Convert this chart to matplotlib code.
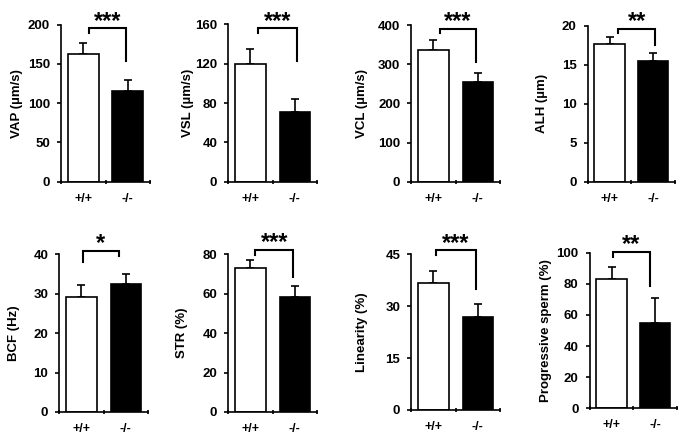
import numpy as np
import matplotlib
matplotlib.use("Agg")
import matplotlib.pyplot as plt

plt.rcParams['font.family'] = ['Liberation Sans', 'DejaVu Sans']
plt.rcParams['font.weight'] = 'bold'

# data
genotypes = ["+/+", "-/-"]
labels = ["VAP (\u00b5m/s)", "VSL (\u00b5m/s)", "VCL (\u00b5m/s)", "ALH (\u00b5m)",
          "BCF (Hz)", "STR (%)", "Linearity (%)", "Progressive sperm (%)"]
means_wt = [163, 120, 336, 17.6, 29.2, 73.0, 36.8, 83.0]
means_ko = [115, 71, 255, 15.5, 32.5, 58.5, 27.0, 55.0]
err_wt = [14, 14.5, 26, 1.0, 3.0, 4.0, 3.4, 7.5]
err_ko = [14, 13, 22, 0.95, 2.4, 5.5, 3.6, 16]
stars = ["***", "***", "***", "**", "*", "***", "***", "**"]
ymax = [200, 160, 400, 20, 40, 80, 45, 100]
ystep = [50, 40, 100, 5, 10, 20, 15, 20]

# axes boxes in pixels: left, top (ymax), right, bottom (0)
boxes = [(61, 24.5, 150, 181.7), (228.3, 24.3, 317, 181.7),
         (411.3, 25, 500, 181.7), (587.7, 25.7, 675, 181.7),
         (59.3, 254.3, 148, 412), (228.3, 254.3, 317, 412),
         (411.3, 254.3, 500, 410), (589.7, 252.7, 677, 408.3)]
# y label centre, pixels from the left edge of the figure
label_x = [17.3, 187.5, 361.7, 542.5, 14.2, 182.5, 362.5, 546]
# bracket: x left, x right (data), y top, y left end, y right end (axes fraction)
brackets = [(0.64, 1.46, 0.976, 0.944, 0.768), (0.68, 1.54, 0.975, 0.943, 0.767),
            (0.64, 1.45, 0.974, 0.947, 0.766), (0.70, 1.54, 0.979, 0.951, 0.876),
            (0.53, 1.35, 1.021, 0.949, 0.989), (0.60, 1.47, 1.027, 0.994, 0.856),
            (0.55, 1.47, 1.026, 0.993, 0.775), (0.53, 1.38, 1.005, 0.973, 0.786)]

W, H = 686, 442
fig = plt.figure(figsize=(W / 100, H / 100), dpi=100)

for i in range(8):
    l, t, r, b = boxes[i]
    ax = fig.add_axes([l / W, 1 - b / H, (r - l) / W, (b - t) / H])
    x = np.array([0.5, 1.5])
    ax.bar(x, [means_wt[i], means_ko[i]], width=0.69, color=["white", "black"],
           edgecolor="black", linewidth=1.2, zorder=2)
    ax.errorbar(x, [means_wt[i], means_ko[i]],
                yerr=[[0, 0], [err_wt[i], err_ko[i]]],
                fmt="none", ecolor="black", elinewidth=1.2, capsize=3,
                capthick=1.2, zorder=1)
    ax.set_xlim(0, 2)
    ax.set_ylim(0, ymax[i])
    ax.set_yticks(np.arange(0, ymax[i] + 0.01, ystep[i]))
    ax.set_xticks([0, 1, 2])
    ax.set_xticklabels([])
    ax.set_xticks(x, minor=True)
    ax.set_xticklabels(genotypes, minor=True, fontsize=9, fontweight="bold")
    ax.tick_params(axis="x", which="minor", length=0, pad=8)
    ax.tick_params(axis="x", which="major", length=3, width=1.2, direction="inout")
    ax.tick_params(axis="y", length=3, width=1.2, labelsize=9.5, pad=5)
    for lab in ax.get_yticklabels():
        lab.set_fontweight("bold")
    for s in ["top", "right"]:
        ax.spines[s].set_visible(False)
    for s in ["left", "bottom"]:
        ax.spines[s].set_linewidth(1.2)
    ax.set_ylabel(labels[i], fontsize=9.5, fontweight="bold", va="center")
    ax.yaxis.set_label_coords((label_x[i] - l) / (r - l), 0.5)

    xl, xr, yt, yl, yr = brackets[i]
    tr = ax.get_xaxis_transform()
    ax.plot([xl, xl, xr, xr], [yl, yt, yt, yr], color="black", lw=1.5,
            transform=tr, clip_on=False, solid_joinstyle="miter")
    ax.annotate(stars[i], xy=((xl + xr) / 2, yt), xycoords=tr,
                xytext=(0, 0.5), textcoords="offset points",
                ha="center", va="baseline", fontsize=17, fontweight="bold")

fig.savefig("out.png", dpi=100)
